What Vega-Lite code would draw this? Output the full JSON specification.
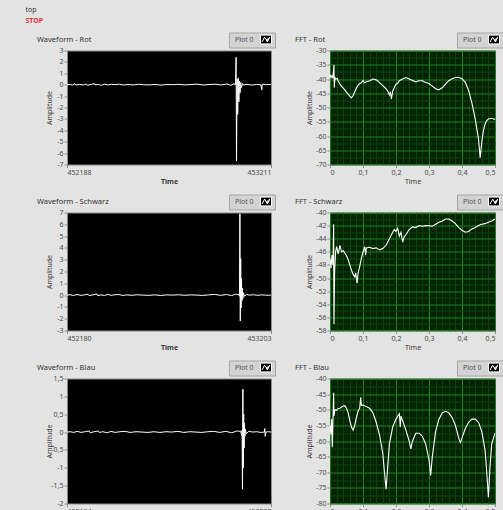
{
  "$schema": "https://vega.github.io/schema/vega-lite/v6.json",
  "background": "#e3e3e3",
  "padding": {"left": 25, "top": 5.5, "right": 0, "bottom": 0},
  "title": {"text": "top", "subtitle": "STOP", "anchor": "start", "frame": "bounds", "dx": -11, "fontSize": 7, "fontWeight": "normal", "color": "#333333", "subtitleColor": "#e8323c", "subtitleFontSize": 7, "subtitleFontWeight": "bold", "subtitlePadding": 4, "offset": 8},
  "config": {
    "font": "Noto Sans",
    "view": {"stroke": "#8a8a8a"},
    "axis": {"labelFontSize": 7, "labelColor": "#4a4a4a", "titleFontSize": 7, "titleColor": "#3c3c3c", "titleFontWeight": "normal", "tickColor": "#8c8c8c", "tickSize": 3, "domain": false, "labelPadding": 1, "grid": false, "titlePadding": 2, "labelExpr": "replace('' + datum.value, '.', ',')"},
    "title": {"fontSize": 7.5, "fontWeight": "normal", "color": "#333333", "anchor": "start", "frame": "group", "offset": -11},
    "legend": {"orient": "none", "legendY": -18, "title": null, "fillColor": "#d3d3d3", "strokeColor": "#a6a6a6", "padding": 1, "labelFontSize": 7, "labelColor": "#555555", "symbolType": "M-1,-0.8H1V0.8H-1Z M-0.7,0.45L-0.25,-0.45L0.25,0.45L0.7,-0.45", "symbolSize": 121, "symbolFillColor": "black", "symbolStrokeWidth": 0.8, "symbolOffset": 30, "labelOffset": -37},
    "line": {"strokeWidth": 1, "clip": true}
  },
  "datasets": {
    "rotW": [
      {"t": 452188, "a": 0}, {"t": 452200, "a": 0.02}, {"t": 452215, "a": -0.02}, {"t": 452228, "a": 0.08}, {"t": 452232, "a": -0.03}, {"t": 452250, "a": 0.02}, {"t": 452270, "a": -0.02}, {"t": 452285, "a": 0.06}, {"t": 452290, "a": -0.05}, {"t": 452310, "a": 0.02}, {"t": 452325, "a": 0.1}, {"t": 452328, "a": -0.02}, {"t": 452345, "a": 0.03}, {"t": 452360, "a": -0.06}, {"t": 452375, "a": 0.05}, {"t": 452395, "a": -0.02}, {"t": 452410, "a": 0.03}, {"t": 452430, "a": 0}, {"t": 452450, "a": 0.05}, {"t": 452470, "a": -0.03}, {"t": 452495, "a": 0.02}, {"t": 452520, "a": -0.02}, {"t": 452545, "a": 0.03}, {"t": 452570, "a": 0}, {"t": 452600, "a": -0.02}, {"t": 452630, "a": 0.02}, {"t": 452660, "a": -0.03}, {"t": 452690, "a": 0.02}, {"t": 452720, "a": 0}, {"t": 452750, "a": 0.03}, {"t": 452780, "a": -0.02}, {"t": 452810, "a": 0.02}, {"t": 452840, "a": 0.05}, {"t": 452870, "a": -0.03}, {"t": 452900, "a": 0.02}, {"t": 452930, "a": 0.04}, {"t": 452960, "a": -0.02}, {"t": 452990, "a": 0.06}, {"t": 453010, "a": -0.05}, {"t": 453025, "a": 0.08}, {"t": 453033, "a": 0}, {"t": 453036, "a": 2.4}, {"t": 453038, "a": -6.7}, {"t": 453041, "a": 0.5}, {"t": 453044, "a": -2.6}, {"t": 453047, "a": 0.6}, {"t": 453050, "a": -1.5}, {"t": 453053, "a": 0.3}, {"t": 453056, "a": -0.7}, {"t": 453059, "a": 0.2}, {"t": 453063, "a": -0.25}, {"t": 453068, "a": 0.1}, {"t": 453075, "a": -0.05}, {"t": 453085, "a": 0.04}, {"t": 453100, "a": 0}, {"t": 453120, "a": -0.03}, {"t": 453140, "a": 0.02}, {"t": 453160, "a": 0}, {"t": 453165, "a": -0.45}, {"t": 453167, "a": 0.05}, {"t": 453185, "a": 0}, {"t": 453200, "a": 0.02}, {"t": 453211, "a": 0}
    ],
    "schW": [
      {"t": 452180, "a": 0}, {"t": 452195, "a": 0.03}, {"t": 452212, "a": -0.03}, {"t": 452230, "a": 0.05}, {"t": 452250, "a": -0.02}, {"t": 452268, "a": 0.02}, {"t": 452285, "a": 0.08}, {"t": 452290, "a": -0.04}, {"t": 452310, "a": 0.02}, {"t": 452330, "a": 0.1}, {"t": 452334, "a": -0.05}, {"t": 452350, "a": 0.02}, {"t": 452368, "a": -0.03}, {"t": 452385, "a": 0.06}, {"t": 452400, "a": -0.02}, {"t": 452420, "a": 0.03}, {"t": 452440, "a": 0.05}, {"t": 452460, "a": -0.03}, {"t": 452480, "a": 0.02}, {"t": 452505, "a": -0.02}, {"t": 452530, "a": 0.03}, {"t": 452560, "a": 0}, {"t": 452590, "a": -0.02}, {"t": 452620, "a": 0.02}, {"t": 452650, "a": -0.03}, {"t": 452680, "a": 0.02}, {"t": 452710, "a": 0}, {"t": 452740, "a": 0.03}, {"t": 452770, "a": -0.02}, {"t": 452800, "a": 0.02}, {"t": 452830, "a": 0}, {"t": 452860, "a": -0.03}, {"t": 452890, "a": 0.02}, {"t": 452920, "a": 0.06}, {"t": 452950, "a": -0.02}, {"t": 452980, "a": 0.05}, {"t": 453005, "a": -0.04}, {"t": 453025, "a": 0.07}, {"t": 453040, "a": 0.05}, {"t": 453045, "a": -0.1}, {"t": 453047, "a": 6.9}, {"t": 453049, "a": -2.2}, {"t": 453051, "a": 3.1}, {"t": 453053, "a": -1.1}, {"t": 453055, "a": 1.4}, {"t": 453057, "a": -0.5}, {"t": 453059, "a": 0.6}, {"t": 453062, "a": -0.3}, {"t": 453065, "a": 0.2}, {"t": 453070, "a": -0.1}, {"t": 453080, "a": 0.05}, {"t": 453095, "a": 0}, {"t": 453115, "a": 0.03}, {"t": 453135, "a": -0.02}, {"t": 453155, "a": 0.02}, {"t": 453175, "a": 0}, {"t": 453190, "a": -0.02}, {"t": 453203, "a": 0}
    ],
    "blaW": [
      {"t": 452184, "a": 0}, {"t": 452200, "a": 0.01}, {"t": 452218, "a": -0.01}, {"t": 452235, "a": 0.02}, {"t": 452255, "a": -0.01}, {"t": 452275, "a": 0.01}, {"t": 452295, "a": 0.03}, {"t": 452300, "a": -0.02}, {"t": 452320, "a": 0.01}, {"t": 452340, "a": 0.03}, {"t": 452345, "a": -0.01}, {"t": 452365, "a": 0.01}, {"t": 452385, "a": -0.02}, {"t": 452405, "a": 0.02}, {"t": 452425, "a": -0.01}, {"t": 452450, "a": 0.01}, {"t": 452475, "a": 0.02}, {"t": 452500, "a": -0.01}, {"t": 452530, "a": 0.01}, {"t": 452560, "a": 0}, {"t": 452590, "a": -0.01}, {"t": 452620, "a": 0.01}, {"t": 452650, "a": -0.01}, {"t": 452680, "a": 0.01}, {"t": 452710, "a": 0}, {"t": 452740, "a": 0.02}, {"t": 452770, "a": -0.01}, {"t": 452800, "a": 0.01}, {"t": 452830, "a": 0}, {"t": 452860, "a": -0.01}, {"t": 452890, "a": 0.01}, {"t": 452920, "a": 0.02}, {"t": 452950, "a": -0.01}, {"t": 452980, "a": 0.02}, {"t": 453010, "a": -0.02}, {"t": 453035, "a": 0.03}, {"t": 453055, "a": 0.02}, {"t": 453060, "a": -0.1}, {"t": 453062, "a": 0.05}, {"t": 453064, "a": -1.6}, {"t": 453066, "a": 1.2}, {"t": 453068, "a": -1.0}, {"t": 453070, "a": 0.5}, {"t": 453072, "a": -0.45}, {"t": 453074, "a": 0.25}, {"t": 453076, "a": -0.12}, {"t": 453079, "a": 0.08}, {"t": 453083, "a": -0.05}, {"t": 453095, "a": 0.02}, {"t": 453115, "a": 0}, {"t": 453135, "a": 0.01}, {"t": 453155, "a": -0.01}, {"t": 453174, "a": 0}, {"t": 453176, "a": 0.1}, {"t": 453178, "a": -0.12}, {"t": 453181, "a": 0}, {"t": 453195, "a": 0.01}, {"t": 453207, "a": 0}
    ],
    "rotF": [
      {"f": 0, "a": -38.5}, {"f": 0.003, "a": -39.5}, {"f": 0.006, "a": -38.8}, {"f": 0.009, "a": -39.8}, {"f": 0.012, "a": -35}, {"f": 0.013, "a": -43}, {"f": 0.015, "a": -39.5}, {"f": 0.018, "a": -40}, {"f": 0.022, "a": -39.8}, {"f": 0.026, "a": -41}, {"f": 0.03, "a": -41.8}, {"f": 0.035, "a": -42.5}, {"f": 0.04, "a": -43.2}, {"f": 0.045, "a": -43.8}, {"f": 0.05, "a": -44.6}, {"f": 0.055, "a": -45.3}, {"f": 0.06, "a": -46}, {"f": 0.065, "a": -46.6}, {"f": 0.07, "a": -45.8}, {"f": 0.075, "a": -44.5}, {"f": 0.08, "a": -43.2}, {"f": 0.085, "a": -42.2}, {"f": 0.09, "a": -41.6}, {"f": 0.095, "a": -41.3}, {"f": 0.1, "a": -40.5}, {"f": 0.105, "a": -41.3}, {"f": 0.11, "a": -41}, {"f": 0.12, "a": -40.6}, {"f": 0.13, "a": -40}, {"f": 0.14, "a": -40.3}, {"f": 0.15, "a": -41.3}, {"f": 0.16, "a": -42.3}, {"f": 0.17, "a": -43.5}, {"f": 0.175, "a": -44.2}, {"f": 0.18, "a": -45.5}, {"f": 0.183, "a": -44.5}, {"f": 0.186, "a": -47}, {"f": 0.19, "a": -44.3}, {"f": 0.195, "a": -43}, {"f": 0.2, "a": -41.8}, {"f": 0.205, "a": -41.5}, {"f": 0.21, "a": -40.6}, {"f": 0.22, "a": -40}, {"f": 0.23, "a": -39.5}, {"f": 0.24, "a": -40}, {"f": 0.25, "a": -40.5}, {"f": 0.26, "a": -41}, {"f": 0.27, "a": -40.6}, {"f": 0.28, "a": -40.6}, {"f": 0.29, "a": -41.2}, {"f": 0.3, "a": -41.6}, {"f": 0.31, "a": -42.5}, {"f": 0.32, "a": -43.4}, {"f": 0.33, "a": -43.8}, {"f": 0.34, "a": -43.1}, {"f": 0.35, "a": -41.8}, {"f": 0.36, "a": -40.6}, {"f": 0.37, "a": -39.9}, {"f": 0.38, "a": -39.5}, {"f": 0.39, "a": -39.4}, {"f": 0.4, "a": -39.9}, {"f": 0.41, "a": -41.2}, {"f": 0.42, "a": -44}, {"f": 0.43, "a": -48.5}, {"f": 0.44, "a": -54}, {"f": 0.45, "a": -61}, {"f": 0.455, "a": -67.6}, {"f": 0.46, "a": -62}, {"f": 0.465, "a": -58}, {"f": 0.47, "a": -55.8}, {"f": 0.475, "a": -54.6}, {"f": 0.48, "a": -54}, {"f": 0.49, "a": -53.8}, {"f": 0.5, "a": -54.2}
    ],
    "schF": [
      {"f": 0, "a": -47}, {"f": 0.003, "a": -48.5}, {"f": 0.006, "a": -46.5}, {"f": 0.009, "a": -48}, {"f": 0.011, "a": -41.8}, {"f": 0.012, "a": -57}, {"f": 0.014, "a": -49}, {"f": 0.017, "a": -46}, {"f": 0.02, "a": -45.2}, {"f": 0.025, "a": -46.3}, {"f": 0.03, "a": -45}, {"f": 0.035, "a": -46}, {"f": 0.04, "a": -45.8}, {"f": 0.045, "a": -46.2}, {"f": 0.05, "a": -46.6}, {"f": 0.055, "a": -47.2}, {"f": 0.06, "a": -48}, {"f": 0.065, "a": -48.8}, {"f": 0.07, "a": -49.4}, {"f": 0.075, "a": -49.8}, {"f": 0.078, "a": -49.2}, {"f": 0.082, "a": -50.8}, {"f": 0.085, "a": -49.3}, {"f": 0.09, "a": -48.2}, {"f": 0.095, "a": -47}, {"f": 0.1, "a": -46}, {"f": 0.105, "a": -45.2}, {"f": 0.108, "a": -46.5}, {"f": 0.11, "a": -45.4}, {"f": 0.12, "a": -45.3}, {"f": 0.13, "a": -45.5}, {"f": 0.14, "a": -45.4}, {"f": 0.15, "a": -45.7}, {"f": 0.16, "a": -45.5}, {"f": 0.17, "a": -45}, {"f": 0.18, "a": -44}, {"f": 0.19, "a": -43}, {"f": 0.195, "a": -42.6}, {"f": 0.2, "a": -42.9}, {"f": 0.205, "a": -42.4}, {"f": 0.21, "a": -43.6}, {"f": 0.215, "a": -43}, {"f": 0.22, "a": -44.5}, {"f": 0.225, "a": -43.7}, {"f": 0.23, "a": -43.4}, {"f": 0.24, "a": -42.6}, {"f": 0.25, "a": -42.2}, {"f": 0.26, "a": -42.3}, {"f": 0.27, "a": -42}, {"f": 0.28, "a": -42.1}, {"f": 0.29, "a": -42}, {"f": 0.3, "a": -42}, {"f": 0.31, "a": -42.1}, {"f": 0.32, "a": -41.8}, {"f": 0.33, "a": -41.5}, {"f": 0.34, "a": -41.3}, {"f": 0.35, "a": -41}, {"f": 0.36, "a": -41}, {"f": 0.37, "a": -41.3}, {"f": 0.38, "a": -41.7}, {"f": 0.39, "a": -42.3}, {"f": 0.4, "a": -42.7}, {"f": 0.41, "a": -43}, {"f": 0.42, "a": -42.9}, {"f": 0.43, "a": -42.5}, {"f": 0.44, "a": -42.3}, {"f": 0.45, "a": -42}, {"f": 0.46, "a": -41.8}, {"f": 0.47, "a": -41.7}, {"f": 0.48, "a": -41.5}, {"f": 0.49, "a": -41.3}, {"f": 0.5, "a": -41}
    ],
    "blaF": [
      {"f": 0, "a": -55}, {"f": 0.003, "a": -58}, {"f": 0.005, "a": -53}, {"f": 0.007, "a": -62}, {"f": 0.009, "a": -54}, {"f": 0.011, "a": -44.6}, {"f": 0.012, "a": -52}, {"f": 0.015, "a": -50}, {"f": 0.02, "a": -50.2}, {"f": 0.025, "a": -49.6}, {"f": 0.03, "a": -49.5}, {"f": 0.035, "a": -49.1}, {"f": 0.04, "a": -48.8}, {"f": 0.045, "a": -48.7}, {"f": 0.05, "a": -49.5}, {"f": 0.055, "a": -51}, {"f": 0.06, "a": -53.5}, {"f": 0.065, "a": -55.5}, {"f": 0.07, "a": -56.5}, {"f": 0.075, "a": -55}, {"f": 0.08, "a": -52.5}, {"f": 0.085, "a": -50.5}, {"f": 0.09, "a": -49.5}, {"f": 0.093, "a": -46}, {"f": 0.095, "a": -48.6}, {"f": 0.1, "a": -48.5}, {"f": 0.11, "a": -49}, {"f": 0.12, "a": -49.5}, {"f": 0.13, "a": -51}, {"f": 0.14, "a": -54}, {"f": 0.15, "a": -58}, {"f": 0.16, "a": -64}, {"f": 0.165, "a": -70}, {"f": 0.17, "a": -75.4}, {"f": 0.175, "a": -68}, {"f": 0.18, "a": -61}, {"f": 0.19, "a": -55.5}, {"f": 0.2, "a": -53}, {"f": 0.21, "a": -51.3}, {"f": 0.213, "a": -55.5}, {"f": 0.215, "a": -52}, {"f": 0.22, "a": -53.5}, {"f": 0.23, "a": -56.5}, {"f": 0.24, "a": -60}, {"f": 0.245, "a": -62.5}, {"f": 0.25, "a": -60}, {"f": 0.26, "a": -57.5}, {"f": 0.27, "a": -57.5}, {"f": 0.28, "a": -58.5}, {"f": 0.29, "a": -61}, {"f": 0.3, "a": -66}, {"f": 0.305, "a": -71}, {"f": 0.31, "a": -65}, {"f": 0.32, "a": -57}, {"f": 0.33, "a": -53}, {"f": 0.34, "a": -51}, {"f": 0.35, "a": -50.5}, {"f": 0.36, "a": -51}, {"f": 0.37, "a": -52.5}, {"f": 0.38, "a": -55}, {"f": 0.39, "a": -59}, {"f": 0.395, "a": -60.5}, {"f": 0.4, "a": -59}, {"f": 0.41, "a": -56}, {"f": 0.42, "a": -54}, {"f": 0.43, "a": -53}, {"f": 0.44, "a": -53}, {"f": 0.45, "a": -54}, {"f": 0.46, "a": -57}, {"f": 0.47, "a": -63}, {"f": 0.475, "a": -70}, {"f": 0.48, "a": -78}, {"f": 0.485, "a": -68}, {"f": 0.49, "a": -61}, {"f": 0.5, "a": -57.5}
    ]
  },
  "resolve": {"scale": {"stroke": "independent"}},
  "columns": 2,
  "spacing": {"row": 8, "column": 18},
  "concat": [
    {
      "title": {"text": "Waveform - Rot", "dx": -30},
      "width": 204, "height": 114,
      "view": {"fill": "black"},
      "data": {"name": "rotW"},
      "mark": {"type": "line"},
      "encoding": {
        "x": {"field": "t", "type": "quantitative", "scale": {"domain": [452188, 453211], "nice": false, "zero": false}, "axis": {"values": [452188, 453211], "title": "Time", "titleFontWeight": "bold"}},
        "y": {"field": "a", "type": "quantitative", "scale": {"domain": [-7, 3], "nice": false, "zero": false}, "axis": {"values": [-7, -6, -5, -4, -3, -2, -1, 0, 1, 2, 3], "title": "Amplitude", "minExtent": 12.5, "maxExtent": 12.5}},
        "stroke": {"datum": "Plot 0", "type": "nominal", "scale": {"range": ["white"]}, "legend": {"legendX": 162}}
      }
    },
    {
      "title": {"text": "FFT - Rot", "dx": -35},
      "width": 165, "height": 114,
      "view": {"fill": "#022402"},
      "data": {"name": "rotF"},
      "resolve": {"axis": {"x": "independent", "y": "independent"}},
      "layer": [
        {
          "mark": {"type": "line", "opacity": 0},
          "encoding": {
            "x": {"field": "f", "type": "quantitative", "scale": {"domain": [0, 0.5], "nice": false}, "axis": {"orient": "bottom", "values": [0.02, 0.04, 0.06, 0.08, 0.12, 0.14, 0.16, 0.18, 0.22, 0.24, 0.26, 0.28, 0.32, 0.34, 0.36, 0.38, 0.42, 0.44, 0.46, 0.48], "grid": true, "gridColor": "#0f410f", "labels": false, "ticks": false, "title": null}},
            "y": {"field": "a", "type": "quantitative", "scale": {"domain": [-70, -30], "nice": false, "zero": false}, "axis": {"orient": "left", "values": [-67.5, -62.5, -57.5, -52.5, -47.5, -42.5, -37.5, -32.5], "grid": true, "gridColor": "#0f410f", "labels": false, "ticks": false, "title": null}}
          }
        },
        {
          "mark": {"type": "line", "strokeWidth": 1.1},
          "encoding": {
            "x": {"field": "f", "type": "quantitative", "axis": {"orient": "bottom", "values": [0, 0.1, 0.2, 0.3, 0.4, 0.5], "grid": true, "gridColor": "#1f821f", "title": "Time"}},
            "y": {"field": "a", "type": "quantitative", "axis": {"orient": "left", "values": [-70, -65, -60, -55, -50, -45, -40, -35, -30], "grid": true, "gridColor": "#1f821f", "title": "Amplitude", "minExtent": 15.5, "maxExtent": 15.5}},
            "stroke": {"datum": "Plot 0", "type": "nominal", "scale": {"range": ["white"]}, "legend": {"legendX": 127}}
          }
        }
      ]
    },
    {
      "title": {"text": "Waveform - Schwarz", "dx": -30},
      "width": 204, "height": 118,
      "view": {"fill": "black"},
      "data": {"name": "schW"},
      "mark": {"type": "line"},
      "encoding": {
        "x": {"field": "t", "type": "quantitative", "scale": {"domain": [452180, 453203], "nice": false, "zero": false}, "axis": {"values": [452180, 453203], "title": "Time", "titleFontWeight": "bold"}},
        "y": {"field": "a", "type": "quantitative", "scale": {"domain": [-3, 7], "nice": false, "zero": false}, "axis": {"values": [-3, -2, -1, 0, 1, 2, 3, 4, 5, 6, 7], "title": "Amplitude", "minExtent": 12.5, "maxExtent": 12.5}},
        "stroke": {"datum": "Plot 0", "type": "nominal", "scale": {"range": ["white"]}, "legend": {"legendX": 162}}
      }
    },
    {
      "title": {"text": "FFT - Schwarz", "dx": -35},
      "width": 165, "height": 118,
      "view": {"fill": "#022402"},
      "data": {"name": "schF"},
      "resolve": {"axis": {"x": "independent", "y": "independent"}},
      "layer": [
        {
          "mark": {"type": "line", "opacity": 0},
          "encoding": {
            "x": {"field": "f", "type": "quantitative", "scale": {"domain": [0, 0.5], "nice": false}, "axis": {"orient": "bottom", "values": [0.02, 0.04, 0.06, 0.08, 0.12, 0.14, 0.16, 0.18, 0.22, 0.24, 0.26, 0.28, 0.32, 0.34, 0.36, 0.38, 0.42, 0.44, 0.46, 0.48], "grid": true, "gridColor": "#0f410f", "labels": false, "ticks": false, "title": null}},
            "y": {"field": "a", "type": "quantitative", "scale": {"domain": [-58, -40], "nice": false, "zero": false}, "axis": {"orient": "left", "values": [-57, -55, -53, -51, -49, -47, -45, -43, -41], "grid": true, "gridColor": "#0f410f", "labels": false, "ticks": false, "title": null}}
          }
        },
        {
          "mark": {"type": "line", "strokeWidth": 1.1},
          "encoding": {
            "x": {"field": "f", "type": "quantitative", "axis": {"orient": "bottom", "values": [0, 0.1, 0.2, 0.3, 0.4, 0.5], "grid": true, "gridColor": "#1f821f", "title": "Time"}},
            "y": {"field": "a", "type": "quantitative", "axis": {"orient": "left", "values": [-58, -56, -54, -52, -50, -48, -46, -44, -42, -40], "grid": true, "gridColor": "#1f821f", "title": "Amplitude", "minExtent": 15.5, "maxExtent": 15.5}},
            "stroke": {"datum": "Plot 0", "type": "nominal", "scale": {"range": ["white"]}, "legend": {"legendX": 127}}
          }
        }
      ]
    },
    {
      "title": {"text": "Waveform - Blau", "dx": -30},
      "width": 204, "height": 125,
      "view": {"fill": "black"},
      "data": {"name": "blaW"},
      "mark": {"type": "line"},
      "encoding": {
        "x": {"field": "t", "type": "quantitative", "scale": {"domain": [452184, 453207], "nice": false, "zero": false}, "axis": {"values": [452184, 453207], "title": "Time", "titleFontWeight": "bold"}},
        "y": {"field": "a", "type": "quantitative", "scale": {"domain": [-2, 1.5], "nice": false, "zero": false}, "axis": {"values": [-2, -1.5, -1, -0.5, 0, 0.5, 1, 1.5], "title": "Amplitude", "minExtent": 13, "maxExtent": 13}},
        "stroke": {"datum": "Plot 0", "type": "nominal", "scale": {"range": ["white"]}, "legend": {"legendX": 162}}
      }
    },
    {
      "title": {"text": "FFT - Blau", "dx": -35},
      "width": 165, "height": 125,
      "view": {"fill": "#022402"},
      "data": {"name": "blaF"},
      "resolve": {"axis": {"x": "independent", "y": "independent"}},
      "layer": [
        {
          "mark": {"type": "line", "opacity": 0},
          "encoding": {
            "x": {"field": "f", "type": "quantitative", "scale": {"domain": [0, 0.5], "nice": false}, "axis": {"orient": "bottom", "values": [0.02, 0.04, 0.06, 0.08, 0.12, 0.14, 0.16, 0.18, 0.22, 0.24, 0.26, 0.28, 0.32, 0.34, 0.36, 0.38, 0.42, 0.44, 0.46, 0.48], "grid": true, "gridColor": "#0f410f", "labels": false, "ticks": false, "title": null}},
            "y": {"field": "a", "type": "quantitative", "scale": {"domain": [-80, -40], "nice": false, "zero": false}, "axis": {"orient": "left", "values": [-77.5, -72.5, -67.5, -62.5, -57.5, -52.5, -47.5, -42.5], "grid": true, "gridColor": "#0f410f", "labels": false, "ticks": false, "title": null}}
          }
        },
        {
          "mark": {"type": "line", "strokeWidth": 1.1},
          "encoding": {
            "x": {"field": "f", "type": "quantitative", "axis": {"orient": "bottom", "values": [0, 0.1, 0.2, 0.3, 0.4, 0.5], "grid": true, "gridColor": "#1f821f", "title": "Time"}},
            "y": {"field": "a", "type": "quantitative", "axis": {"orient": "left", "values": [-80, -75, -70, -65, -60, -55, -50, -45, -40], "grid": true, "gridColor": "#1f821f", "title": "Amplitude", "minExtent": 15.5, "maxExtent": 15.5}},
            "stroke": {"datum": "Plot 0", "type": "nominal", "scale": {"range": ["white"]}, "legend": {"legendX": 127}}
          }
        }
      ]
    }
  ]
}
